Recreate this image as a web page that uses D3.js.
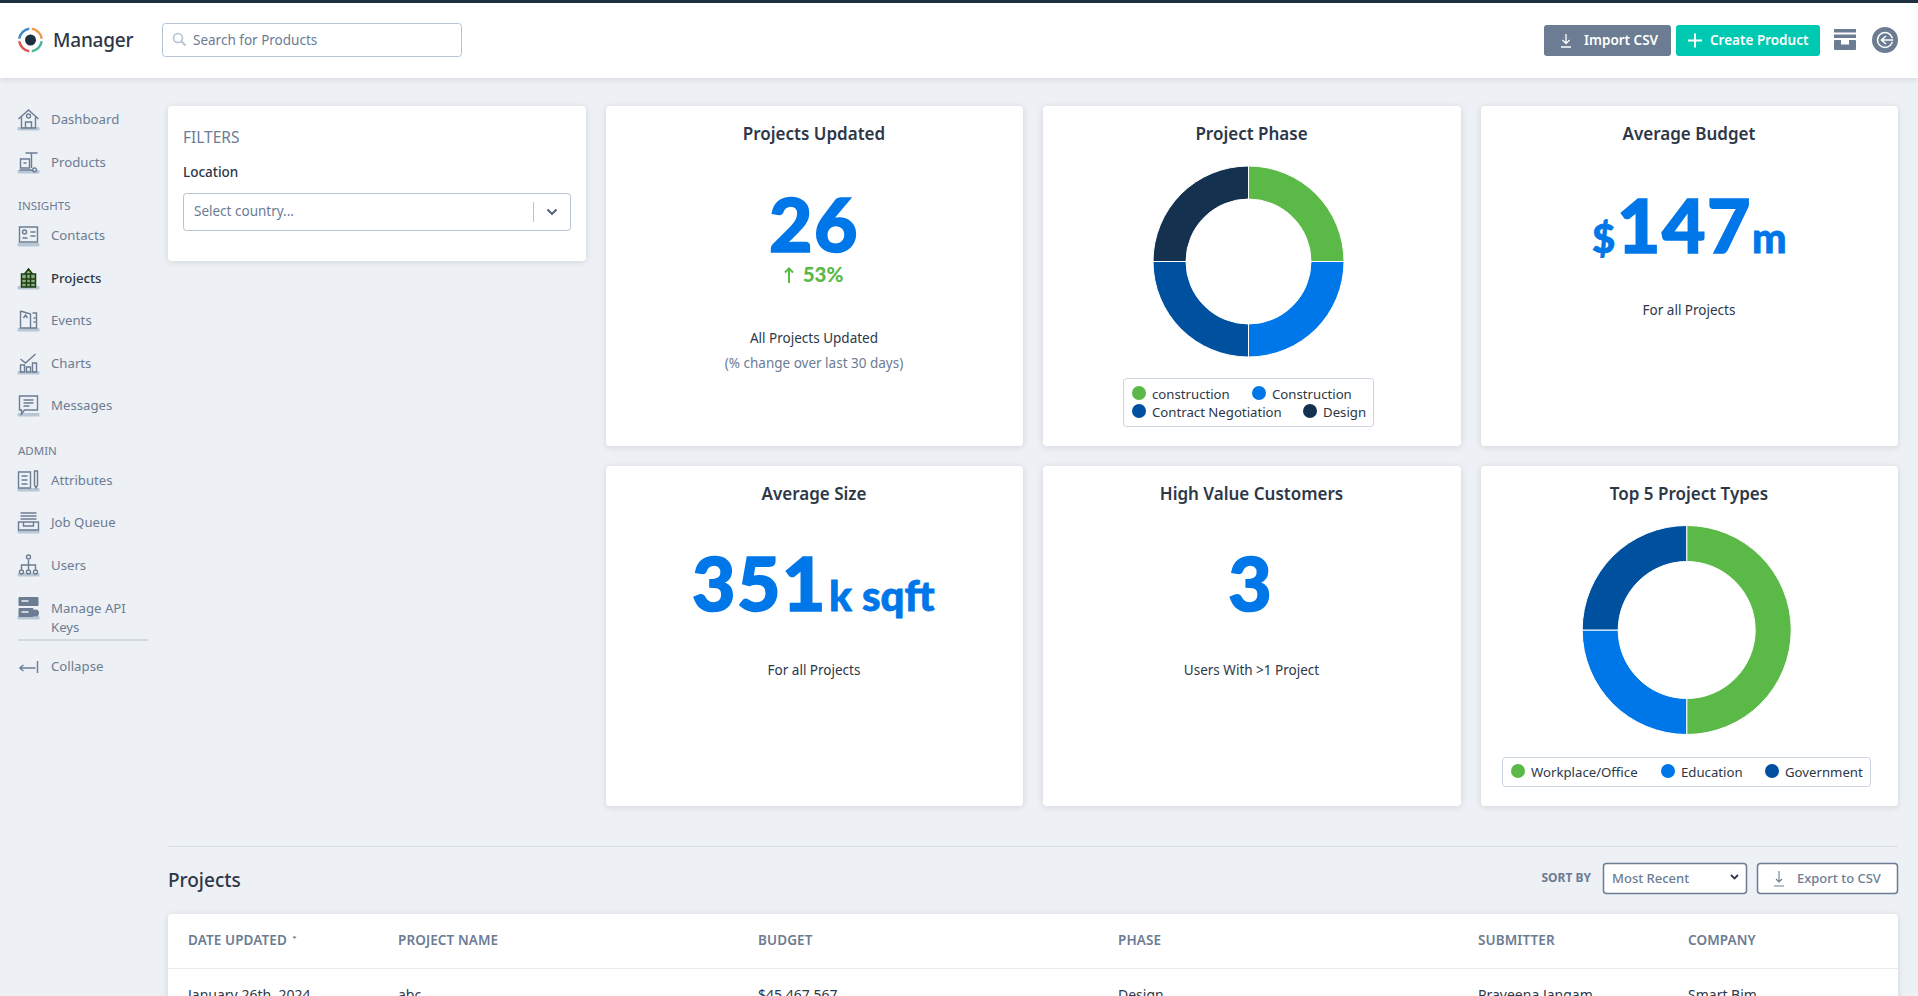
<!DOCTYPE html>
<html>
<head>
<meta charset="utf-8">
<title>Manager</title>
<script src="https://cdn.jsdelivr.net/npm/d3@7"></script>
<style>
  html, body { margin: 0; padding: 0; background: #edf0f4; overflow: hidden; }
  svg { display: block; font-family: "Noto Sans", "Open Sans", sans-serif; }
  .card { filter: drop-shadow(0 1px 3px rgba(60,75,100,0.16)); }
  .big { font-family: Lato, "Noto Sans", sans-serif; font-weight: 900; fill: #0077e8; stroke: #0077e8; stroke-width: 1.6px; }
  .small-big { stroke-width: 0.8px; }
</style>
</head>
<body>
<div id="page"></div>
<script>
// chart data
var phaseNames = ["construction", "Construction", "Contract Negotiation", "Design"];
var phaseValues = [1, 1, 1, 1];
var typeNames = ["Workplace/Office", "Education", "Government"];
var typeValues = [2, 1, 1];
var sliceColors = ["#5bb947", "#0077e8", "#0050a0", "#14324f"];

var projectsUpdated = "26";
var projectsChange = "53%";
var averageBudget = "147";
var averageSize = "351";
var highValueCustomers = "3";

var navNames = ["Dashboard", "Products", "Contacts", "Projects", "Events", "Charts", "Messages", "Attributes", "Job Queue", "Users", "Manage API", "Collapse"];
var navY = [119, 162, 235, 278, 320, 363, 405, 480, 522, 565, 608, 666];
var tableHeads = ["DATE UPDATED", "PROJECT NAME", "BUDGET", "PHASE", "SUBMITTER", "COMPANY"];
var tableRow = ["January 26th, 2024", "abc", "$45,467,567", "Design", "Praveena Jangam", "Smart Bim"];
var tableX = [188, 398, 758, 1118, 1478, 1688];

var W = 1918, H = 996;
var dark = "#2d3748", slate = "#6b7c93", line = "#c3cfdc";

var svg = d3.select("#page").append("svg").attr("width", W).attr("height", H);

function txt(parent, x, y, s, size, color, weight, anchor) {
  return parent.append("text")
    .attr("x", x).attr("y", y)
    .attr("font-size", size)
    .attr("fill", color)
    .attr("font-weight", weight || 400)
    .attr("text-anchor", anchor || "start")
    .text(s);
}

function box(parent, x, y, w, h, fill, stroke, r, sw) {
  return parent.append("rect")
    .attr("x", x).attr("y", y).attr("width", w).attr("height", h)
    .attr("rx", r === undefined ? 3 : r)
    .attr("fill", fill)
    .attr("stroke", stroke || "none")
    .attr("stroke-width", sw || 1);
}

// header
var head = svg.append("g").attr("class", "card");
box(head, 0, 0, W, 78, "#fff", null, 0);
box(svg, 0, 0, W, 3, "#1e3040", null, 0);

var logoColors = ["#3f87c9", "#ee9a4d", "#4db39a", "#d9534f"];
var logoArc = d3.arc().innerRadius(10).outerRadius(12.5);
var logoPie = d3.pie().sort(null).padAngle(0.16).startAngle(-Math.PI / 2).endAngle(Math.PI * 1.5);
svg.append("g").attr("transform", "translate(30.5,40)")
  .selectAll("path").data(logoPie([1, 1, 1, 1])).join("path")
  .attr("d", logoArc).attr("fill", function(d, i) { return logoColors[i]; });
svg.append("circle").attr("cx", 30.5).attr("cy", 40).attr("r", 5.5).attr("fill", "#1e3040");
txt(svg, 53, 47, "Manager", 19, dark, 500).attr("letter-spacing", -0.2);

box(svg, 162.5, 23.5, 299, 33, "#fff", "#b4c2d2", 3);
svg.append("circle").attr("cx", 178).attr("cy", 38).attr("r", 4.5).attr("fill", "none").attr("stroke", "#b4c2d2").attr("stroke-width", 1.6);
svg.append("path").attr("d", "M181.5 41.5L185.5 45.5").attr("stroke", "#b4c2d2").attr("stroke-width", 1.8);
txt(svg, 193, 45, "Search for Products", 13.5, slate);

box(svg, 1544, 25, 127, 31, "#6b7c93", null, 3);
svg.append("path").attr("d", "M1566 34v9M1562.5 40l3.5 3.5 3.5-3.5M1561 47h10").attr("fill", "none").attr("stroke", "#fff").attr("stroke-width", 1.3);
txt(svg, 1584, 45, "Import CSV", 13.5, "#fff", 600);
box(svg, 1676, 25, 144, 31, "#00c9b1", null, 3);
svg.append("path").attr("d", "M1695 33.5v14M1688 40.5h14").attr("stroke", "#fff").attr("stroke-width", 2);
txt(svg, 1710, 45, "Create Product", 13.5, "#fff", 600);

box(svg, 1834, 29, 22, 3.5, slate, null, 0);
box(svg, 1834, 34.5, 22, 3.5, slate, null, 0);
box(svg, 1834, 40, 22, 10, slate, null, 1);
box(svg, 1841, 40, 8, 4.5, "#fff", null, 0);
svg.append("circle").attr("cx", 1885).attr("cy", 40).attr("r", 13).attr("fill", slate);
svg.append("circle").attr("cx", 1885).attr("cy", 40).attr("r", 7.5).attr("fill", "none").attr("stroke", "#fff").attr("stroke-width", 1.5);
svg.append("path").attr("d", "M1893 40h-11M1886 36l-4.5 4 4.5 4").attr("fill", "none").attr("stroke", slate).attr("stroke-width", 3.5);
svg.append("path").attr("d", "M1893 40h-11M1886 36l-4.5 4 4.5 4").attr("fill", "none").attr("stroke", "#fff").attr("stroke-width", 1.5);

// sidebar icons, one path per nav item, drawn around 0,0
var iconPaths = [
  "M-10 0L0-9 10 0M-7-2V9H7V-2M-3 9V3H3V9M-2-3a2 2 0 1 0 4 0a2 2 0 1 0-4 0",
  "M-3-9H9M3-9V6M-8-3H1V6H-8ZM-5 1H-2M6 6a2 2 0 1 0 .1 0M-9 8H5",
  "M-9-8H9V7H-9ZM-6-3a2 2 0 1 0 4 0a2 2 0 1 0-4 0M-6 3H-1M2-3H7M2 1H7",
  "M-7-4H7V9H-7ZM-4-4L0-9 4-4M-7 1H7M-7 5H7M-2-4V9M2-4V9",
  "M-8-9V8H8V-7H4M-8-9L2-6V8M-5-2L-3-5-1-2M5-2H7M5 2H7",
  "M-8 9V2H-4V9ZM-2 9V4H2V9ZM4 9V0H8V9ZM-8-4L-3 0 7-9",
  "M-9-9H9V5H-4L-7 9V5H-9ZM-5-5H5M-5-2H5M-5 1H1",
  "M-10-8H2V8H-10ZM-7-4H-1M-7 0H-1M-7 4H-1M6-9V5L7.5 8 9 5V-9Z",
  "M-8-9H8M-8-6H8M-8-3H8M-10 0H10V8H-10ZM-5 0V4H5V0",
  "M0-5V0M-7 5V0H7V5M0 0V5M-2-8a2 2 0 1 0 4 0a2 2 0 1 0-4 0M-9 7a2 2 0 1 0 4 0a2 2 0 1 0-4 0M-2 7a2 2 0 1 0 4 0a2 2 0 1 0-4 0M5 7a2 2 0 1 0 4 0a2 2 0 1 0-4 0",
  "",
  "M-9 2H7M-9 2L-5-1M-9 2L-5 5M9-5V7"
];

navNames.forEach(function(name, i) {
  var y = navY[i];
  var active = name == "Projects";
  var g = svg.append("g").attr("transform", "translate(28.5," + y + ")");
  if (name != "Collapse") box(g, -11, 8, 22, 3.5, "#b9c6d4", null, 1);
  if (name == "Manage API") {
    box(g, -10, -11, 20, 9, slate, null, 1);
    box(g, -10, 0, 15, 9, slate, null, 1);
    g.append("circle").attr("cx", 7).attr("cy", 5).attr("r", 3.5).attr("fill", slate);
    g.append("path").attr("d", "M-7-7H0M-7 4H0").attr("stroke", "#edf0f4").attr("stroke-width", 1.3);
  } else if (active) {
    g.append("path").attr("d", iconPaths[i]).attr("fill", "#2f7d1f").attr("fill-opacity", 0.55).attr("stroke", "#1f3b10").attr("stroke-width", 1.5);
  } else {
    g.append("path").attr("d", iconPaths[i]).attr("fill", "none").attr("stroke", slate).attr("stroke-width", 1.4);
  }
  txt(svg, 51, y + 5, name, 13.2, active ? dark : slate, active ? 500 : 400);
});
txt(svg, 18, 210, "INSIGHTS", 11.5, slate);
txt(svg, 18, 455, "ADMIN", 11.5, slate);
txt(svg, 51, 632, "Keys", 13.2, slate);
svg.append("line").attr("x1", 18).attr("x2", 148).attr("y1", 640).attr("y2", 640).attr("stroke", "#b4c2d2");

// cards
function card(x, y, w, h) {
  box(svg.append("g").attr("class", "card"), x, y, w, h, "#fff", null, 4);
}
card(168, 106, 418, 155);
card(606, 106, 417, 340);
card(1043, 106, 418, 340);
card(1481, 106, 417, 340);
card(606, 466, 417, 340);
card(1043, 466, 418, 340);
card(1481, 466, 417, 340);

// filters
txt(svg, 183, 143, "FILTERS", 15.5, slate);
txt(svg, 183, 177, "Location", 13.5, dark, 500);
box(svg, 183.5, 193.5, 387, 37, "#fff", "#b4c2d2", 3);
txt(svg, 194, 216, "Select country...", 13.5, slate);
svg.append("line").attr("x1", 533.5).attr("x2", 533.5).attr("y1", 202).attr("y2", 222).attr("stroke", "#b4c2d2");
svg.append("path").attr("d", "M547.5 209.5l4.5 4.5 4.5-4.5").attr("fill", "none").attr("stroke", "#4a5a6e").attr("stroke-width", 1.8);

// card titles and captions
var titles = [
  ["Projects Updated", 814, 140], ["Project Phase", 1251.5, 140], ["Average Budget", 1689, 140],
  ["Average Size", 814, 500], ["High Value Customers", 1251.5, 500], ["Top 5 Project Types", 1689, 500]
];
titles.forEach(function(t) { txt(svg, t[1], t[2], t[0], 17, dark, 600, "middle"); });

txt(svg, 814, 343, "All Projects Updated", 13.5, dark, 400, "middle");
txt(svg, 814, 368, "(% change over last 30 days)", 13.5, slate, 400, "middle");
txt(svg, 1689, 315, "For all Projects", 13.5, dark, 400, "middle");
txt(svg, 814, 675, "For all Projects", 13.5, dark, 400, "middle");
txt(svg, 1251.5, 675, "Users With >1 Project", 13.5, dark, 400, "middle");

// big numbers
txt(svg, 814, 252, projectsUpdated, 75, "#0077e8", 900, "middle").attr("class", "big").attr("letter-spacing", 1.5);
txt(svg, 823, 282, projectsChange, 20.5, "#5bb947", 900, "middle").attr("font-family", "Lato");
svg.append("path").attr("d", "M789 283V268.5M785 272.5l4-4 4 4").attr("fill", "none").attr("stroke", "#5bb947").attr("stroke-width", 2);

txt(svg, 1592, 253, "$", 40, "#0077e8", 900).attr("class", "big small-big");
txt(svg, 1617, 253, averageBudget, 75, "#0077e8", 900).attr("class", "big").attr("letter-spacing", 1.5);
txt(svg, 1752, 253, "m", 41, "#0077e8", 900).attr("class", "big small-big");

txt(svg, 692, 611, averageSize, 75, "#0077e8", 900).attr("class", "big").attr("letter-spacing", 1.5);
txt(svg, 829, 611, "k sqft", 42, "#0077e8", 900).attr("class", "big small-big");

txt(svg, 1250, 611, highValueCustomers, 75, "#0077e8", 900, "middle").attr("class", "big");

// donuts
function donut(cx, cy, outer, inner, values) {
  var pie = d3.pie().sort(null);
  var arc = d3.arc().innerRadius(inner).outerRadius(outer);
  svg.append("g").attr("transform", "translate(" + cx + "," + cy + ")")
    .selectAll("path").data(pie(values)).join("path")
    .attr("d", arc)
    .attr("fill", function(d, i) { return sliceColors[i]; })
    .attr("stroke", "#fff")
    .attr("stroke-width", 1);
}
donut(1248.5, 261.5, 95.5, 62.5, phaseValues);
donut(1686.7, 630, 104.5, 68.5, typeValues);

function legend(names, xs, ys, bx, by, bw, bh) {
  box(svg, bx, by, bw, bh, "#fff", "#cbd5e0", 3);
  names.forEach(function(n, i) {
    svg.append("circle").attr("cx", xs[i]).attr("cy", ys[i]).attr("r", 7).attr("fill", sliceColors[i]);
    txt(svg, xs[i] + 13, ys[i] + 6, n, 13.2, dark);
  });
}
legend(phaseNames, [1139, 1259, 1139, 1310], [393, 393, 411, 411], 1123.5, 378.5, 250, 48);
legend(typeNames, [1518, 1668, 1772], [771, 771, 771], 1502.5, 757.5, 368, 29);

// projects table
svg.append("line").attr("x1", 168).attr("x2", 1898).attr("y1", 846.5).attr("y2", 846.5).attr("stroke", "#d5dee9");
txt(svg, 168, 887, "Projects", 19, dark, 500);
txt(svg, 1591, 882, "SORT BY", 12, slate, 700, "end");
box(svg, 1603.5, 863.5, 143, 30, "#fff", slate, 3, 1.5);
txt(svg, 1612, 883, "Most Recent", 13, slate, 500);
svg.append("path").attr("d", "M1731 875l3.5 3.5 3.5-3.5").attr("fill", "none").attr("stroke", dark).attr("stroke-width", 1.8);
box(svg, 1757.5, 863.5, 140, 30, "#fff", slate, 3, 1.5);
svg.append("path").attr("d", "M1779 871v11M1776 879l3 3 3-3M1774 886h10").attr("fill", "none").attr("stroke", slate).attr("stroke-width", 1.1);
txt(svg, 1797, 883, "Export to CSV", 13, slate, 500);

var tableCard = svg.append("g").attr("class", "card");
box(tableCard, 168, 914, 1730, 120, "#fff", null, 4);
svg.append("line").attr("x1", 168).attr("x2", 1898).attr("y1", 968.5).attr("y2", 968.5).attr("stroke", "#e8ecf1");
tableHeads.forEach(function(h, i) {
  txt(svg, tableX[i], 945, h, 13.5, slate, 600).attr("letter-spacing", 0.1);
  txt(svg, tableX[i], 1000, tableRow[i], 14, dark);
});
svg.append("path").attr("d", "M292.5 936.5h4l-2 2.5Z").attr("fill", slate);
</script>
</body>
</html>
